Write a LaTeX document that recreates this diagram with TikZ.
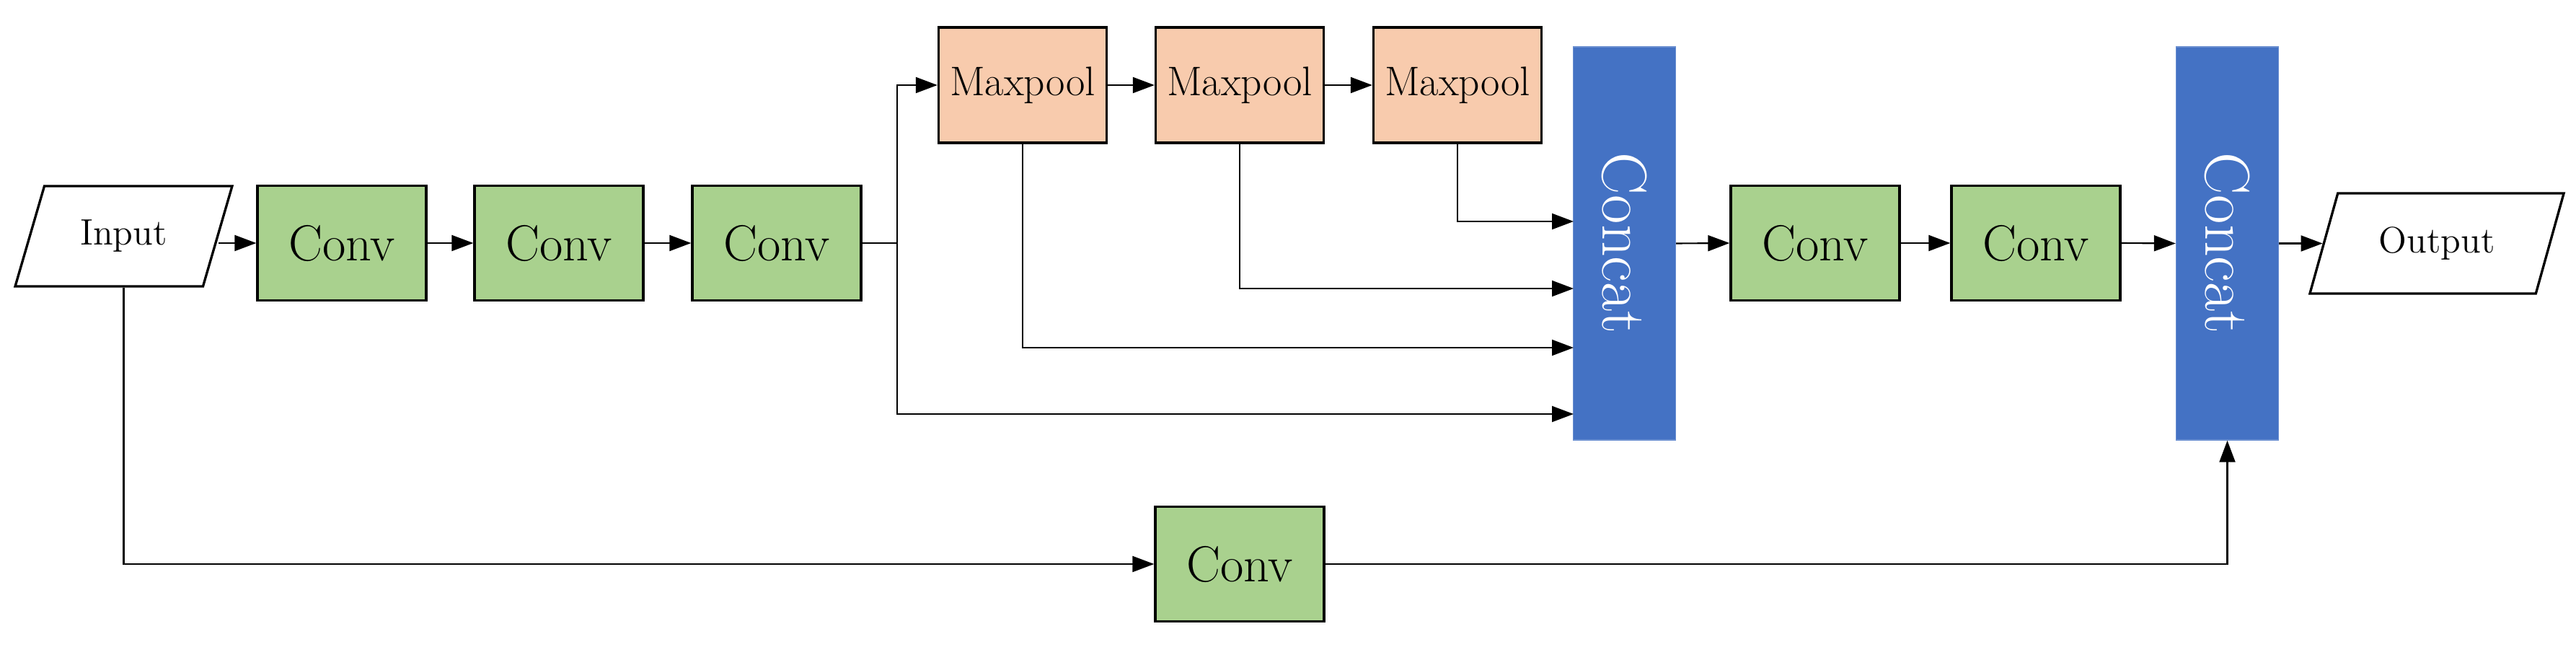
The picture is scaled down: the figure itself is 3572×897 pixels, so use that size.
\documentclass[tikz,border=0pt]{standalone}
\usetikzlibrary{arrows.meta,shapes.geometric}
\definecolor{convgreen}{HTML}{A9D18E}
\definecolor{poolorange}{HTML}{F8CBAD}
\definecolor{catblue}{HTML}{4472C4}
\begin{document}
\begin{tikzpicture}[x=0.1mm,y=-0.1mm,
  convbox/.style={draw=black,line width=0.95pt,fill=convgreen,minimum width=23.4mm,minimum height=15.9mm,inner sep=0pt,font=\fontsize{20}{24}\selectfont},
  poolbox/.style={draw=black,line width=0.95pt,fill=poolorange,minimum width=23.3mm,minimum height=16mm,inner sep=0pt,font=\fontsize{16.3}{19}\selectfont},
  catbox/.style={fill=catblue,draw=catblue!80!white,line width=0.4pt,minimum width=14.2mm,minimum height=54.5mm,inner sep=0pt},
  iobox/.style={draw=black,line width=0.95pt,fill=white,trapezium,trapezium left angle=63.6,trapezium right angle=116.4,trapezium stretches=true,minimum height=13.9mm,inner sep=0pt,font=\fontsize{14.5}{17}\selectfont},
  arr/.style={-{Triangle[length=3mm,width=2.2mm]},line width=0.6pt},
  ln/.style={line width=0.6pt}]
\useasboundingbox (0,0) rectangle (3572,897);
% nodes
\node[iobox,minimum width=30.1mm] (in) at (171.5,327.5) {Input};
\node[convbox] (c1) at (474,337) {Conv};
\node[convbox] (c2) at (775,337) {Conv};
\node[convbox] (c3) at (1077,337) {Conv};
\node[poolbox] (mp1) at (1418,118) {Maxpool};
\node[poolbox] (mp2) at (1719,118) {Maxpool};
\node[poolbox] (mp3) at (2021,118) {Maxpool};
\node[catbox] (cat1) at (2252.5,337.5) {};
\node[rotate=-90,text=white,font=\fontsize{25}{30}\selectfont] (t1) at (cat1.center) {Concat};
\node[convbox] (c4) at (2517,337) {Conv};
\node[convbox] (c5) at (2823,337) {Conv};
\node[catbox] (cat2) at (3088.5,337.5) {};
\node[rotate=-90,text=white,font=\fontsize{25}{30}\selectfont] (t2) at (cat2.center) {Concat};
\node[iobox,minimum width=35.3mm] (out) at (3379,337.5) {Output};
\node[convbox] (c6) at (1719,782) {Conv};
% helper coordinates
\coordinate (br) at (1244,337);
\coordinate (k1) at (2182,307);
\coordinate (k2) at (2182,400);
\coordinate (k3) at (2182,482);
\coordinate (k4) at (2182,574);
% connectors
\draw[arr] (c1.west -| in.east) -- (c1.west);
\draw[arr] (c1) -- (c2);
\draw[arr] (c2) -- (c3);
\draw[ln] (c3.east) -- (br);
\draw[arr] (br) |- (mp1.west);
\draw[arr] (br) |- (k4);
\draw[arr] (mp1) -- (mp2);
\draw[arr] (mp2) -- (mp3);
\draw[arr] (mp3.south) |- (k1);
\draw[arr] (mp2.south) |- (k2);
\draw[arr] (mp1.south) |- (k3);
\draw[arr] (cat1.east) -- (c4.west);
\draw[arr] (c4) -- (c5);
\draw[arr] (c5.east) -- (cat2.west);
\draw[arr] (cat2.east) -- (cat2.east -| out.west);
\draw[arr] (in.south) |- (c6.west);
\draw[arr] (c6.east) -| (cat2.south);
\end{tikzpicture}
\end{document}
